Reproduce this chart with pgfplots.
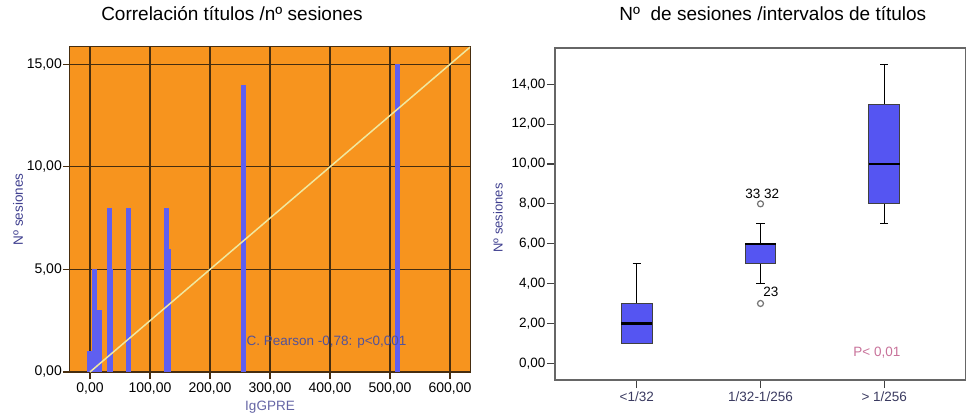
\documentclass[border=0pt]{standalone}
\usepackage{pgfplots}
\pgfplotsset{compat=1.18}
\usepgfplotslibrary{statistics}
\usepackage{fontspec}
\setmainfont{Liberation Sans}

\definecolor{spssorange}{RGB}{247,148,30}
\definecolor{gridbrown}{RGB}{70,45,15}
\definecolor{barblue}{RGB}{95,95,240}
\definecolor{boxblue}{RGB}{85,85,242}
\definecolor{fitline}{RGB}{240,232,160}
\definecolor{labelblue}{RGB}{63,63,143}
\definecolor{tickslate}{RGB}{58,58,96}
\definecolor{pinktext}{RGB}{200,114,154}

\pgfplotsset{
    commafmt/.style={
        /pgf/number format/fixed,
        /pgf/number format/fixed zerofill,
        /pgf/number format/precision=2,
        /pgf/number format/use comma,
        /pgf/number format/1000 sep={},
        /pgf/number format/assume math mode=true,
    },
}

\begin{document}
\begin{tikzpicture}
    \useasboundingbox (-70pt,-43pt) rectangle (896pt,372pt);

    % izquierda: titulos vs sesiones
    \begin{axis}[
        at={(0pt,0pt)}, anchor=south west,
        scale only axis, width=400pt, height=325pt,
        xmin=-33.3, xmax=633.3, ymin=0, ymax=15.84,
        xtick={0,100,...,600}, ytick={0,5,10,15},
        commafmt,
        tick label style={font=\fontsize{14}{16}\selectfont},
        yticklabel style={inner xsep=1pt},
        axis background/.style={fill=spssorange},
        grid=major,
        major grid style={line width=1.1pt, color=gridbrown},
        tick align=outside, xtick pos=bottom, ytick pos=left,
        major tick length=7pt,
        tick style={line width=1.1pt, color=gridbrown},
        axis line style={line width=1pt, color=gridbrown},
        title={Correlación títulos /nº sesiones},
        title style={at={(0.405,1)}, anchor=center, yshift=27pt,
            font=\fontsize{19}{22}\selectfont},
        ylabel={Nº sesiones},
        ylabel style={at={(axis description cs:-0.13,0.5)}, anchor=center,
            text=labelblue, font=\fontsize{13.5}{16}\selectfont},
        xlabel={IgGPRE},
        xlabel style={at={(axis description cs:0.5,0)}, anchor=center, yshift=-35pt,
            text=labelblue!80!white, font=\fontsize{13.5}{16}\selectfont},
    ]
        \addplot[ycomb, no markers, line width=5pt, color=barblue]
            coordinates {(0,1) (8,5) (16,3) (32,8) (35,5) (64,8) (128,8) (131,6) (256,14) (512,15)};
        \addplot[no markers, line width=1.5pt, color=fitline]
            coordinates {(0,0) (633.3,15.83)};
        \node[anchor=west, text=labelblue!90!white, font=\fontsize{13.5}{16}\selectfont]
            at (axis cs:255,1.45) {C. Pearson -0,78: p<0,001};
    \end{axis}

    % derecha: boxplots
    \begin{axis}[
        at={(485pt,-8pt)}, anchor=south west,
        scale only axis, width=411pt, height=332pt,
        xmin=0.34, xmax=3.66, ymin=-0.84, ymax=15.82,
        ytick={0,2,...,14},
        commafmt,
        yticklabel style={font=\fontsize{13.5}{16}\selectfont, inner xsep=1.5pt},
        xtick={1,2,3},
        xticklabels={<1/32, 1/32-1/256, > 1/256},
        xticklabel style={text=tickslate, font=\fontsize{13.5}{16}\selectfont},
        tick align=outside, xtick pos=bottom, ytick pos=left,
        major tick length=8pt,
        tick style={line width=1.2pt, color=black!75},
        axis line style={line width=1.2pt, color=black!60},
        title={Nº\ \ de sesiones /intervalos de títulos},
        title style={at={(0.53,1)}, anchor=center, yshift=28pt,
            font=\fontsize{19}{22}\selectfont},
        ylabel={Nº sesiones},
        ylabel style={at={(axis description cs:-0.139,0.488)}, anchor=center,
            text=labelblue, font=\fontsize{13}{16}\selectfont},
        boxplot/draw direction=y,
        boxplot/box extend=0.25,
        boxplot/whisker extend=0.065,
        boxplot/every box/.style={draw=black!75, fill=boxblue, line width=1pt},
        boxplot/every whisker/.style={draw=black, line width=1.3pt},
        boxplot/every median/.style={draw=black, line width=2.2pt},
    ]
        \addplot[boxplot prepared={draw position=1, lower whisker=1,
            lower quartile=1, median=2, upper quartile=3, upper whisker=5}]
            coordinates {};
        \addplot[boxplot prepared={draw position=2, lower whisker=4,
            lower quartile=5, median=6, upper quartile=6, upper whisker=7},
            mark=o, mark size=3pt, mark options={draw=black!55, fill=white, line width=1.2pt}]
            coordinates {(0,8) (0,3)};
        \addplot[boxplot prepared={draw position=3, lower whisker=7,
            lower quartile=8, median=10, upper quartile=13, upper whisker=15}]
            coordinates {};
        \node[font=\fontsize{13.5}{16}\selectfont] at (axis cs:2.015,8.5) {33\ 32};
        \node[font=\fontsize{13.5}{16}\selectfont] at (axis cs:2.083,3.58) {23};
        \node[text=pinktext, font=\fontsize{13.5}{16}\selectfont] at (axis cs:2.94,0.52) {P< 0,01};
    \end{axis}
\end{tikzpicture}
\end{document}
